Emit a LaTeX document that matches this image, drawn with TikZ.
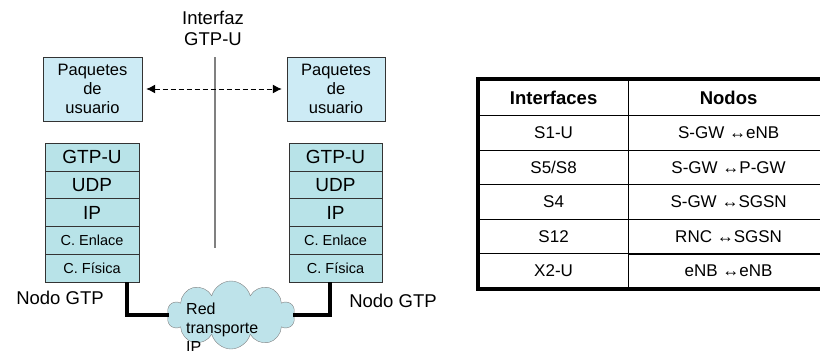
\documentclass[tikz,border=0pt]{standalone}
\usepackage{fontspec}
\setmainfont{Liberation Sans}
\usetikzlibrary{arrows,arrows.meta,chains,matrix,positioning,scopes,shapes.symbols}
\definecolor{azulpaq}{HTML}{CDEBF5}
\definecolor{azulcapa}{HTML}{B8E3E8}
\definecolor{azulnube}{HTML}{BEE3EA}
\newcommand{\letra}[2]{\fontsize{#1}{#2}\selectfont}
\tikzset{>={Latex[length=9pt,width=9pt]},
  paquete/.style={draw=black!80, fill=azulpaq, minimum width=99pt,
    minimum height=64pt, align=center, inner sep=0pt, font=\letra{16.5}{19}},
  capa/.style={draw=black!80, fill=azulcapa, minimum width=94pt,
    minimum height=27.8pt, inner sep=0pt, outer sep=0pt, font=\letra{19}{20}},
  capachica/.style={capa, font=\letra{14.5}{16}},
  nube/.style={cloud, cloud puffs=10, aspect=2, draw=gray, fill=azulnube,
    minimum width=128pt, minimum height=68pt},
  enlace/.style={line width=4pt},
  celda/.style={draw, line width=0.8pt, minimum height=34.5pt,
    inner sep=0pt, outer sep=0pt, font=\letra{17}{19}}}

\begin{document}
\begin{tikzpicture}[x=1pt,y=-1pt]
  \useasboundingbox (0,0) rectangle (820,351);
  % interfaz
  \node[align=center, font=\letra{18.5}{21}] (interfaz) at (213,28) {Interfaz\\GTP-U};
  \coordinate (ifzarriba) at (215,57);
  \coordinate (ifzabajo) at (215,248);
  \draw[gray, line width=1.5pt] (ifzarriba) -- (ifzabajo);
  % paquetes de usuario
  \node[paquete] (paqA) at (92.5,89) {Paquetes\\de\\usuario};
  \node[paquete, minimum width=98pt] (paqB) at (336,89) {Paquetes\\de\\usuario};
  \draw[<->, line width=1pt, dash pattern=on 5pt off 3pt,
    shorten <=4pt, shorten >=5pt] (paqA) -- (paqB);
  % pilas
  {
    [start chain=pilaA going below, node distance=0pt]
    \node[capa, on chain] (gtpA) at (92,156.9) {GTP-U};
    \node[capa, on chain] (udpA) {UDP};
    \node[capa, on chain] (ipA) {IP};
    \node[capachica, on chain] (enlA) {C. Enlace};
    \node[capachica, on chain] (fisA) {C. Física};
  }
  {
    [start chain=pilaB going below, node distance=0pt]
    \node[capa, minimum width=93pt, on chain] (gtpB) at (335.5,156.9) {GTP-U};
    \node[capa, minimum width=93pt, on chain] (udpB) {UDP};
    \node[capa, minimum width=93pt, on chain] (ipB) {IP};
    \node[capachica, minimum width=93pt, on chain] (enlB) {C. Enlace};
    \node[capachica, minimum width=93pt, on chain] (fisB) {C. Física};
  }
  \node[font=\letra{18.5}{20}] (nodoA) at (60,298) {Nodo GTP};
  \node[font=\letra{18.5}{20}] (nodoB) at (393,301) {Nodo GTP};
  % red de transporte
  \node[nube] (red) at (231,315) {};
  \node[align=left, anchor=west, inner sep=0pt, font=\letra{16}{19}]
    (redtxt) at (186,328) {Red\\transporte\\IP};
  \draw[enlace] ([xshift=35pt]fisA.south) |- (red);
  \draw[enlace] ([xshift=-5.5pt]fisB.south) |- (red);
  % tabla
  \matrix (tabla) [matrix of nodes, anchor=north west, inner sep=0pt,
    row sep=-0.8pt, column sep=-0.8pt, nodes={celda},
    column 1/.style={nodes={minimum width=150pt}},
    column 2/.style={nodes={minimum width=200pt}},
    row 1/.style={nodes={minimum height=36pt, font=\bfseries\letra{18.5}{20}}}]
    at (478,79) {
      Interfaces & Nodos \\
      S1-U & S-GW ↔eNB \\
      S5/S8 & S-GW ↔P-GW \\
      S4 & S-GW ↔SGSN \\
      S12 & RNC ↔SGSN \\
      X2-U & eNB ↔eNB \\
    };
  \draw[line width=3.5pt] (tabla.north west) rectangle (tabla.south east);
\end{tikzpicture}
\end{document}
